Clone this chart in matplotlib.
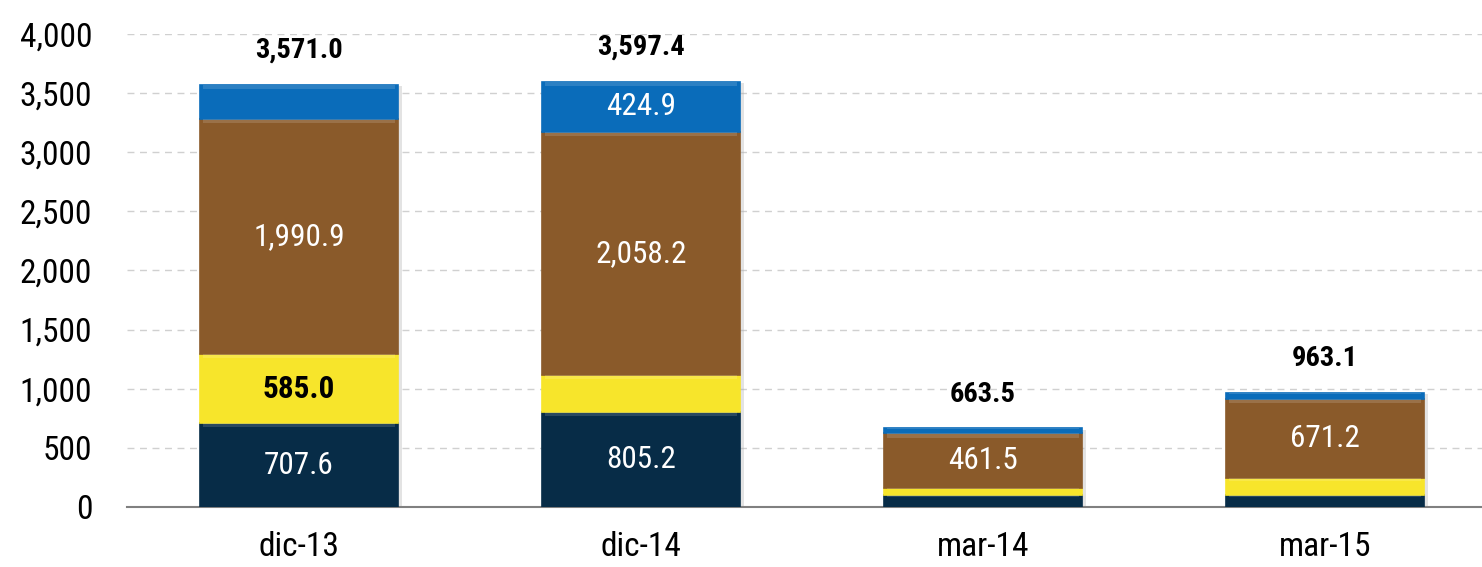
import matplotlib.pyplot as plt
import numpy as np

plt.rcParams['font.family'] = ['Roboto Condensed', 'DejaVu Sans']

# datos
categorias = ["dic-13", "dic-14", "mar-14", "mar-15"]
navy = [707.6, 805.2, 100.6, 100.0]
amarillo = [585.0, 309.1, 59.4, 145.0]
cafe = [1990.9, 2058.2, 461.5, 671.2]
azul = [287.5, 424.9, 42.0, 46.9]
totales = [3571.0, 3597.4, 663.5, 963.1]

# etiquetas visibles dentro de cada segmento (None = sin etiqueta)
lbl_navy = ["707.6", "805.2", None, None]
lbl_amarillo = ["585.0", None, None, None]
lbl_cafe = ["1,990.9", "2,058.2", "461.5", "671.2"]
lbl_azul = [None, "424.9", None, None]

series = [
    (navy, "#072c47", lbl_navy, "white"),
    (amarillo, "#f7e52b", lbl_amarillo, "black"),
    (cafe, "#8a5a2a", lbl_cafe, "white"),
    (azul, "#0a6cba", lbl_azul, "white"),
]

fig = plt.figure(figsize=(14.82, 5.67), dpi=100)
ax = fig.add_axes([0.0857, 0.106, 0.9143, 0.834])

x = np.arange(len(categorias))
ancho = 0.58
base = np.zeros(len(categorias))

for vals, color, lbls, tcolor in series:
    vals = np.array(vals)
    # sombra
    ax.bar(x + 0.012, vals, ancho, bottom=base - 12, color="#b0b0b0", alpha=0.35, zorder=2)
    ax.bar(x, vals, ancho, bottom=base, color=color, edgecolor=color, linewidth=1.2, zorder=3)
    # brillo superior
    brillo = np.minimum(vals * 0.15, 35)
    ax.bar(x, brillo, ancho * 0.97, bottom=base + vals - brillo, color="white", alpha=0.14,
           linewidth=0, zorder=4)
    for i, t in enumerate(lbls):
        if t:
            ax.text(x[i], base[i] + vals[i] / 2, t, ha="center", va="center", color=tcolor,
                    fontsize=22.5, fontweight="bold" if tcolor == "black" else "normal", zorder=5)
    base = base + vals

for i, tot in enumerate(totales):
    ax.annotate(f"{tot:,.1f}", (x[i], base[i]), xytext=(0, 15), textcoords="offset points",
                ha="center", va="bottom", fontsize=20.5, fontweight="bold", color="black")

ax.set_ylim(0, 4000)
ax.set_xlim(-0.503, 3.459)
ax.set_yticks(np.arange(0, 4001, 500))
ax.set_yticklabels([f"{v:,}" for v in range(0, 4001, 500)])
ax.set_xticks(x)
ax.set_xticklabels(categorias)
ax.tick_params(axis="both", labelsize=24, length=0)
ax.tick_params(axis="y", pad=25)
ax.tick_params(axis="x", pad=17)
ax.yaxis.grid(True, linestyle=(0, (5, 4)), color="#d0d0d0", linewidth=1)
ax.set_axisbelow(True)
for s in ["top", "right", "left"]:
    ax.spines[s].set_visible(False)
ax.spines["bottom"].set_color("#808080")
ax.spines["bottom"].set_linewidth(1.5)

fig.savefig("out.png", dpi=100)
